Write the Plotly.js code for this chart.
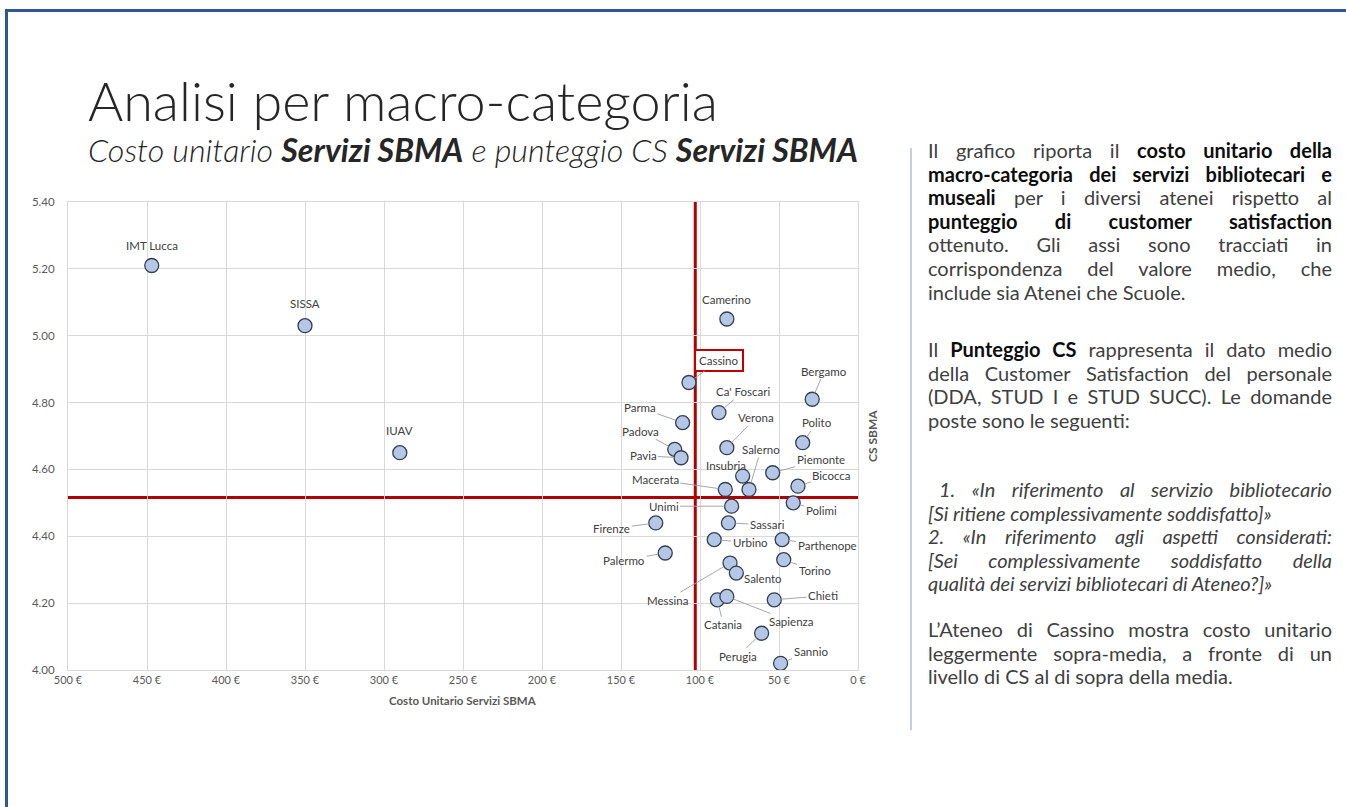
<!DOCTYPE html>
<html><head><meta charset="utf-8">
<script src="https://cdn.plot.ly/plotly-3.0.1.min.js"></script>
<style>
html,body{margin:0;padding:0;background:#fff;width:1346px;height:807px;overflow:hidden;font-family:Lato,'Open Sans',sans-serif;}
#frame{position:absolute;left:5px;top:9px;width:1400px;height:900px;border-top:3px solid #2F5597;border-left:3px solid #2F5597;}
#chart{position:absolute;left:0;top:0;width:1346px;height:807px;}
.head{position:absolute;left:88px;top:80px;white-space:nowrap;line-height:1;color:#262626;}
.bl{display:inline-block;width:0;height:0;}
#title{font-weight:300;font-size:50px;}
#subtitle{font-style:italic;font-weight:300;font-size:30px;top:140px;}
#subtitle b{font-weight:700;}
#rule{position:absolute;left:910px;top:148px;width:2px;height:582px;background:#C3CFDA;}
.txt{position:absolute;left:928px;width:404px;font-size:20px;line-height:23.6px;color:#404040;}
.txt div{white-space:nowrap;text-align:left;}
.txt b{color:#0d0d0d;font-weight:700;}
.txt.it{font-style:italic;}
</style></head>
<body>
<div id="frame"></div>
<div id="chart"></div>
<div id="title" class="head">Analisi per macro-categoria<span class="bl"></span></div>
<div id="subtitle" class="head">Costo unitario <b>Servizi SBMA</b> e punteggio CS <b>Servizi SBMA</b><span class="bl"></span></div>
<div id="rule"></div>
<div class="txt" style="top:139px">
<div class="j">Il grafico riporta il <b>costo unitario della</b></div>
<div class="j"><b>macro-categoria dei servizi bibliotecari e</b></div>
<div class="j"><b>museali</b> per i diversi atenei rispetto al</div>
<div class="j"><b>punteggio di customer satisfaction</b></div>
<div class="j">ottenuto. Gli assi sono tracciati in</div>
<div class="j">corrispondenza del valore medio, che</div>
<div>include sia Atenei che Scuole.</div>
</div>
<div class="txt" style="top:338px">
<div class="j">Il <b>Punteggio CS</b> rappresenta il dato medio</div>
<div class="j">della Customer Satisfaction del personale</div>
<div class="j">(DDA, STUD I e STUD SUCC). Le domande</div>
<div>poste sono le seguenti:</div>
</div>
<div class="txt it" style="top:478px">
<div class="j" style="padding-left:11px">1. «In riferimento al servizio bibliotecario</div>
<div>[Si ritiene complessivamente soddisfatto]»</div>
<div class="j">2. «In riferimento agli aspetti considerati:</div>
<div class="j">[Sei complessivamente soddisfatto della</div>
<div>qualità dei servizi bibliotecari di Ateneo?]»</div>
</div>
<div class="txt" style="top:618px">
<div class="j">L’Ateneo di Cassino mostra costo unitario</div>
<div class="j">leggermente sopra-media, a fronte di un</div>
<div>livello di CS al di sopra della media.</div>
</div>
<script>
// ---- data ----
const atenei = ["IMT Lucca","SISSA","IUAV","Camerino","Cassino","Bergamo","Ca' Foscari","Parma","Polito","Verona","Padova","Pavia","Piemonte","Insubria","Bicocca","Macerata","Salerno","Polimi","Unimi","Sassari","Firenze","Urbino","Parthenope","Palermo","Torino","Messina","Salento","Catania","Sapienza","Chieti","Perugia","Sannio"];
const costoUnitario = [447,350,290,83,107,29,88,111,35,83,116,112,54,73,38,84,69,41,80,82,128,91,48,122,47,81,77,89,83,53,61,49];
const punteggioCS = [5.21,5.03,4.65,5.05,4.86,4.81,4.77,4.74,4.68,4.665,4.66,4.635,4.59,4.58,4.55,4.54,4.54,4.50,4.49,4.44,4.44,4.39,4.39,4.35,4.33,4.32,4.29,4.21,4.22,4.21,4.11,4.02];
const mediaCosto = [103];
const mediaCS = [4.516];
const xTickVals = [500,450,400,350,300,250,200,150,100,50,0];
const yTickVals = [4.0,4.2,4.4,4.6,4.8,5.0,5.2,5.4];

// ---- label placement (pixel offsets from the marker) ----
const labelPos = {
 "IMT Lucca":{dx:0,dy:-20,line:false},
 "SISSA":{dx:0,dy:-22,line:false},
 "IUAV":{dx:0,dy:-22,line:false},
 "Camerino":{dx:0,dy:-20,line:false},
 "Cassino":{dx:30,dy:-22,line:true},
 "Bergamo":{dx:12,dy:-28,line:true},
 "Ca' Foscari":{dx:24,dy:-21,line:true},
 "Parma":{dx:-43,dy:-15,line:true},
 "Verona":{dx:29,dy:-30,line:true},
 "Polito":{dx:14,dy:-20,line:true},
 "Padova":{dx:-34,dy:-18,line:true},
 "Pavia":{dx:-38,dy:-2,line:true},
 "Salerno":{dx:12,dy:-40,line:true},
 "Piemonte":{dx:48,dy:-13,line:true},
 "Insubria":{dx:-17,dy:-11,line:false},
 "Macerata":{dx:-70,dy:-10,line:true},
 "Bicocca":{dx:34,dy:-11,line:true},
 "Polimi":{dx:28,dy:8,line:true},
 "Unimi":{dx:-68,dy:0,line:true},
 "Sassari":{dx:39,dy:2,line:true},
 "Firenze":{dx:-44,dy:6,line:true},
 "Urbino":{dx:36,dy:3,line:true},
 "Parthenope":{dx:45,dy:6,line:true},
 "Palermo":{dx:-41,dy:7,line:true},
 "Torino":{dx:31,dy:11,line:true},
 "Messina":{dx:-63,dy:37,line:true},
 "Salento":{dx:27,dy:5,line:true},
 "Catania":{dx:6,dy:25,line:true},
 "Sapienza":{dx:64,dy:25,line:true},
 "Chieti":{dx:49,dy:-4,line:true},
 "Perugia":{dx:-24,dy:23,line:true},
 "Sannio":{dx:30,dy:-12,line:true}
};

const FONT = 'Lato, "Open Sans", sans-serif';
const annotations = atenei.map((n,i)=>{
  const p = labelPos[n];
  const a = {x:costoUnitario[i], y:punteggioCS[i], xref:'x', yref:'y', text:n,
    font:{family:FONT,size:11.5,color:'#404040'}};
  if (p.line) Object.assign(a,{showarrow:true, ax:p.dx, ay:p.dy, arrowhead:0, arrowwidth:1, arrowcolor:'#A6A6A6', standoff:7});
  else Object.assign(a,{showarrow:false, xshift:p.dx, yshift:-p.dy});
  if (n==="Cassino") Object.assign(a,{bordercolor:'#C00000', borderwidth:2, borderpad:3, bgcolor:'#ffffff'});
  return a;
});
annotations.push({xref:'paper',yref:'paper',x:0.5,y:0,yshift:-30,yanchor:'middle',showarrow:false,
  text:'<b>Costo Unitario Servizi SBMA</b>',font:{family:FONT,size:11.5,color:'#595959'}});
annotations.push({xref:'paper',yref:'paper',x:1,y:0.5,xshift:14,xanchor:'center',showarrow:false,textangle:-90,
  text:'<b>CS SBMA</b>',font:{family:FONT,size:12,color:'#595959'}});

const trace = {type:'scatter', mode:'markers', x:costoUnitario, y:punteggioCS, text:atenei,
  marker:{size:14, color:'#B4C7E7', line:{color:'#333f50', width:1.3}}, hoverinfo:'text'};

const layout = {
  width:1346, height:807,
  margin:{l:68, r:488, t:202, b:137},
  paper_bgcolor:'rgba(0,0,0,0)', plot_bgcolor:'rgba(0,0,0,0)',
  showlegend:false,
  font:{family:FONT, color:'#595959'},
  xaxis:{range:[500,0], tickvals:xTickVals, ticktext:xTickVals.map(v=>v+' €'),
    showgrid:true, gridcolor:'#D9D9D9', gridwidth:1, zeroline:false,
    showline:true, linecolor:'#D9D9D9', mirror:true, ticks:'', tickfont:{family:FONT,size:11,color:'#595959'}},
  yaxis:{range:[4,5.4], tickvals:yTickVals, ticktext:yTickVals.map(v=>v.toFixed(2)),
    showgrid:true, gridcolor:'#D9D9D9', gridwidth:1, zeroline:false,
    showline:true, linecolor:'#D9D9D9', mirror:true, ticks:'', ticklabelstandoff:10, tickfont:{family:FONT,size:11.5,color:'#595959'}},
  shapes:[
    {type:'line', xref:'x', yref:'paper', x0:mediaCosto[0], x1:mediaCosto[0], y0:0, y1:1, line:{color:'#B00000', width:3}, layer:'between'},
    {type:'line', xref:'paper', yref:'y', x0:0, x1:1, y0:mediaCS[0], y1:mediaCS[0], line:{color:'#B00000', width:3}, layer:'between'}
  ],
  annotations:annotations
};
Plotly.newPlot('chart',[trace],layout,{displayModeBar:false, staticPlot:true});

function place(el, targetW, baseline){
  const w = el.getBoundingClientRect().width;
  const fs = parseFloat(getComputedStyle(el).fontSize);
  el.style.fontSize = (fs*targetW/w)+'px';
  const b = el.querySelector('.bl').getBoundingClientRect().bottom;
  const t = parseFloat(getComputedStyle(el).top);
  el.style.top = (t + baseline - b) + 'px';
}
function justifyLines(){
  document.querySelectorAll('.txt div').forEach(d=>{
    d.innerHTML = '<span>'+d.innerHTML+'</span>';
    const s = d.firstElementChild;
    const pad = parseFloat(getComputedStyle(d).paddingLeft)||0;
    const W = 404 - pad;
    let nat = s.getBoundingClientRect().width;
    if (nat > W) {
      const fs = parseFloat(getComputedStyle(d).fontSize);
      d.style.fontSize = (fs*W/nat - 0.1)+'px';
      nat = s.getBoundingClientRect().width;
    }
    if (d.classList.contains('j')) {
      const n = (d.textContent.match(/ /g)||[]).length;
      if (n>0) d.style.wordSpacing = ((W - nat)/n)+'px';
    }
  });
}
function finish(){
  place(document.getElementById('title'), 630, 121);
  place(document.getElementById('subtitle'), 770, 162);
  justifyLines();
}
if (document.fonts && document.fonts.ready) document.fonts.ready.then(finish); else finish();
</script>
</body></html>
